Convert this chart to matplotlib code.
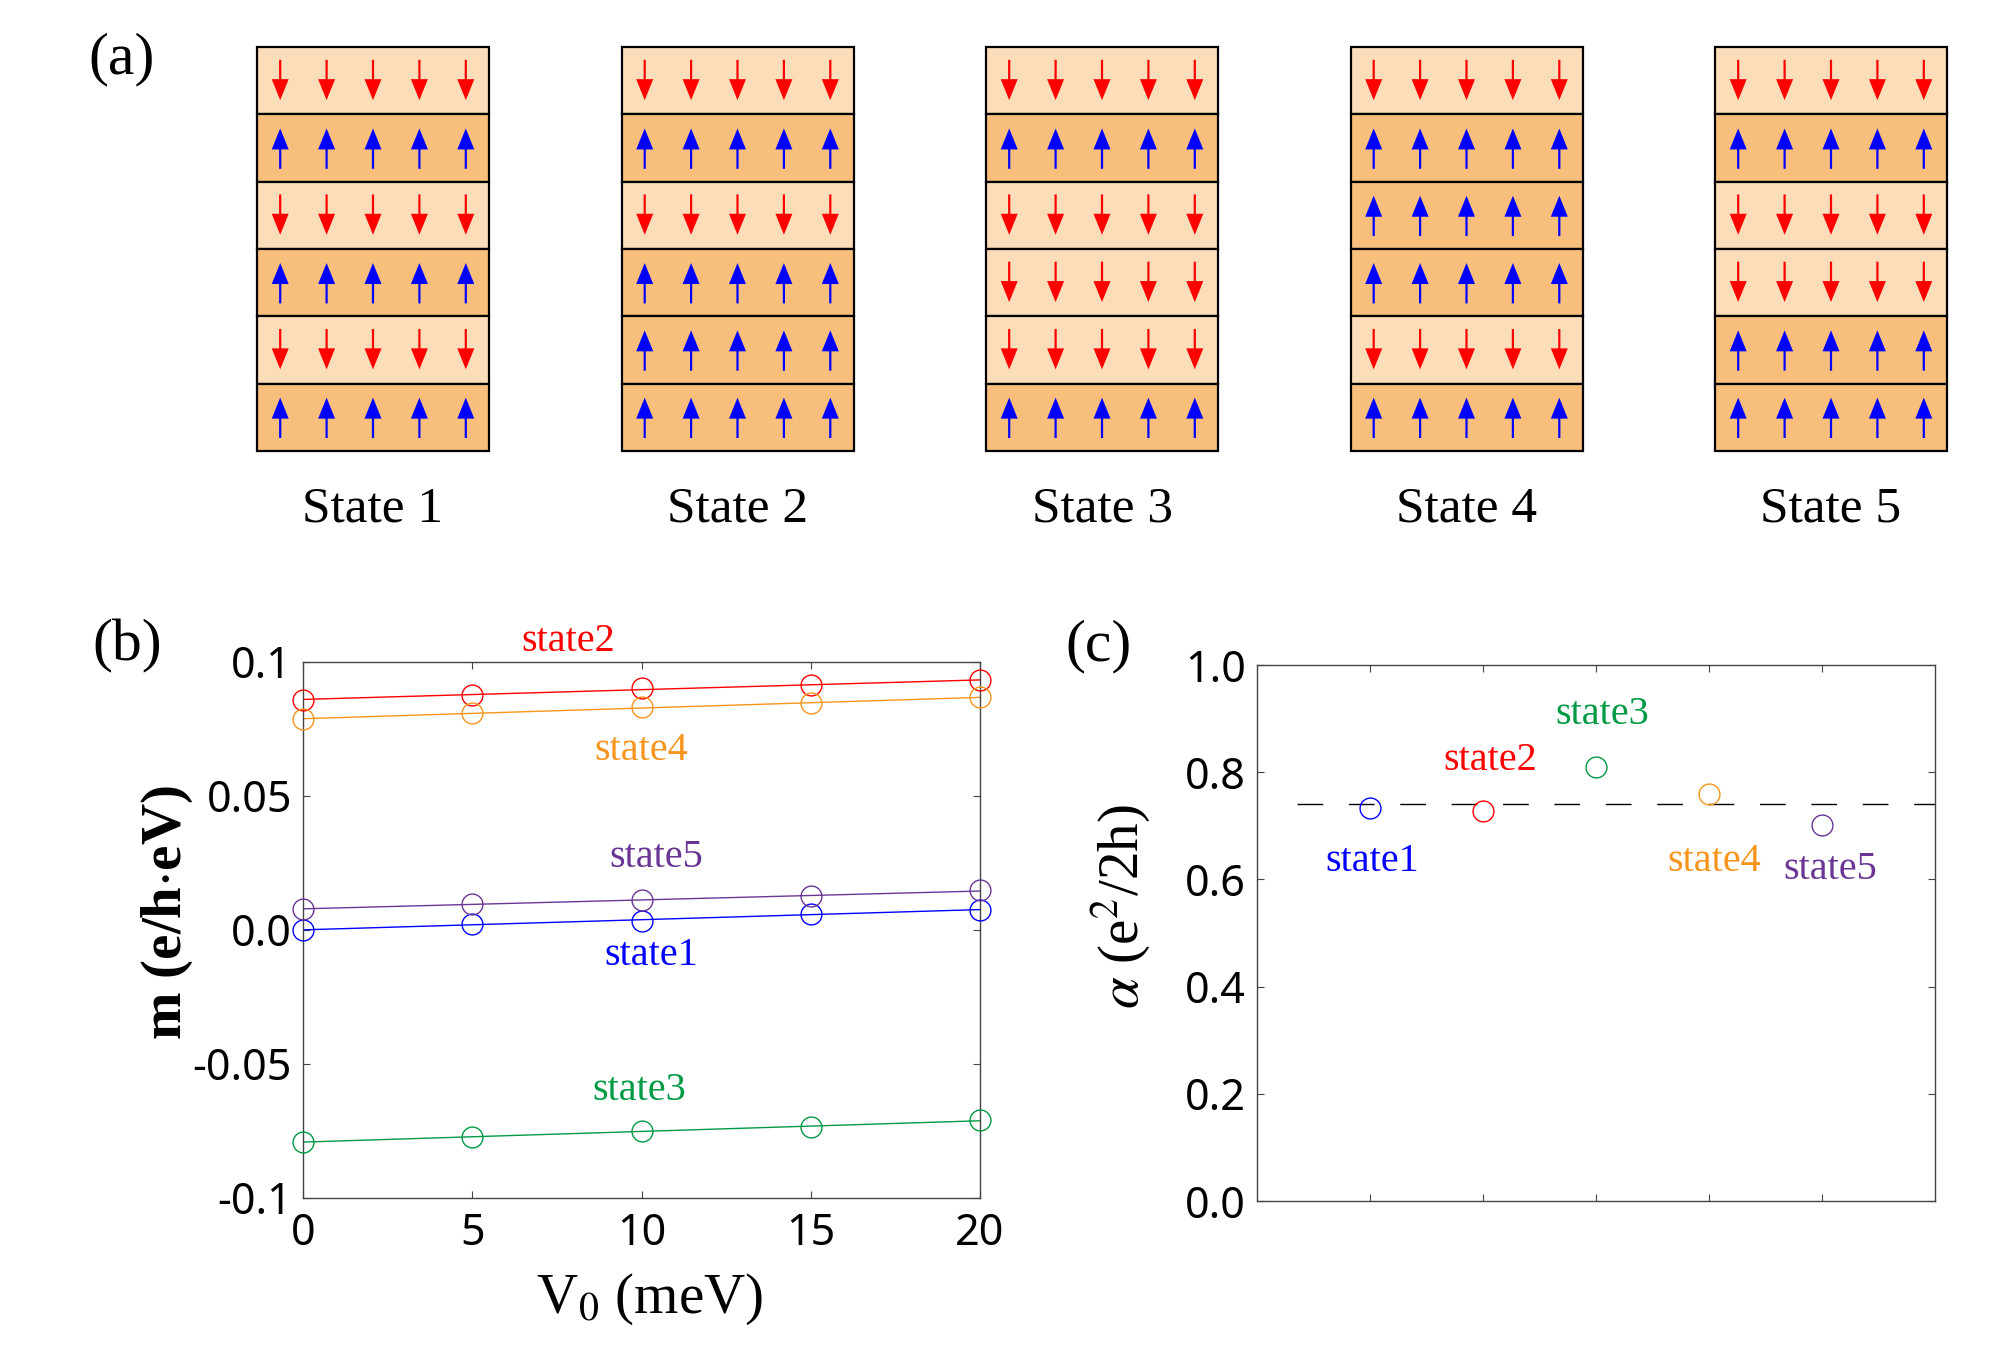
import numpy as np
import matplotlib
matplotlib.use('Agg')
import matplotlib.pyplot as plt
from matplotlib.patches import Rectangle, FancyArrow

plt.rcParams['mathtext.fontset'] = 'stix'
serif = 'Liberation Serif'
sans = 'Noto Sans'

# (a) layer magnetisation, top layer first ('d' down, 'u' up)
state_names = ['State 1', 'State 2', 'State 3', 'State 4', 'State 5']
state_layers = [
    ['d', 'u', 'd', 'u', 'd', 'u'],
    ['d', 'u', 'd', 'u', 'u', 'u'],
    ['d', 'u', 'd', 'd', 'd', 'u'],
    ['d', 'u', 'u', 'u', 'd', 'u'],
    ['d', 'u', 'd', 'd', 'u', 'u'],
]

# (b) m vs V0
V0 = [0, 5, 10, 15, 20]
m_state1 = [0.0000, 0.0022, 0.0035, 0.0059, 0.0076]
m_state2 = [0.0859, 0.0877, 0.0902, 0.0915, 0.0931]
m_state3 = [-0.0790, -0.0774, -0.0749, -0.0735, -0.0710]
m_state4 = [0.0787, 0.0809, 0.0831, 0.0846, 0.0868]
m_state5 = [0.0080, 0.0096, 0.0111, 0.0126, 0.0148]
yticks_b = [-0.1, -0.05, 0.0, 0.05, 0.1]
yticklabels_b = ['-0.1', '-0.05', '0.0', '0.05', '0.1']

# (c) alpha per state
state_idx = [1, 2, 3, 4, 5]
alpha_vals = [0.733, 0.7285, 0.810, 0.759, 0.7016]
alpha_mean = 0.7405

labels = ['state1', 'state2', 'state3', 'state4', 'state5']
colors = ['#0000FF', '#FF0000', '#009A44', '#F7941D', '#6A3594']

W, H = 2013, 1359
fig = plt.figure(figsize=(W / 100, H / 100), dpi=100)

# ---- panel (a): drawn in pixel coordinates
ax_a = fig.add_axes([0, 0, 1, 1])
ax_a.set_xlim(0, W)
ax_a.set_ylim(H, 0)
ax_a.axis('off')
box_left, box_step, box_top = 257, 364.5, 47
box_w, lay_h = 232, 67.3
light, dark = '#FBDDBA', '#F8BF7C'
for i, (name, lay) in enumerate(zip(state_names, state_layers)):
    x0 = box_left + i * box_step
    for j, s in enumerate(lay):
        y0 = box_top + j * lay_h
        ax_a.add_patch(Rectangle((x0, y0), box_w, lay_h,
                                 facecolor=light if s == 'd' else dark,
                                 edgecolor='black', lw=1.6))
        for k in range(5):
            xa = x0 + box_w * (0.1 + 0.2 * k)
            if s == 'd':
                ya, dy, c = y0 + 0.19 * lay_h, 0.6 * lay_h, '#FF0000'
            else:
                ya, dy, c = y0 + 0.81 * lay_h, -0.6 * lay_h, '#0000FF'
            ax_a.add_patch(FancyArrow(xa, ya, 0, dy, width=2.2, head_width=17,
                                      head_length=21, length_includes_head=True,
                                      color=c, lw=0))
    ax_a.text(x0 + box_w / 2, 522, name, ha='center', va='baseline',
              fontsize=37, fontfamily=[serif])

fig.text(122 / W, 1 - 59 / H, '(a)', ha='center', va='center', fontsize=43, fontfamily=[serif])
fig.text(127 / W, 1 - 646 / H, '(b)', ha='center', va='center', fontsize=43, fontfamily=[serif])
fig.text(1099 / W, 1 - 646 / H, '(c)', ha='center', va='center', fontsize=43, fontfamily=[serif])


def style_axes(ax):
    for sp in ax.spines.values():
        sp.set_linewidth(1.0)
        sp.set_color('#444444')
    ax.tick_params(direction='in', top=True, right=True, length=5, width=0.8,
                   color='#444444', labelsize=31, labelfontfamily=sans)
    ax.tick_params(axis='y', pad=8)
    ax.tick_params(axis='x', pad=10)


# ---- panel (b)
ax_b = fig.add_axes([303 / W, 1 - 1198 / H, 677 / W, 536 / H])
series_b = [m_state1, m_state2, m_state3, m_state4, m_state5]
pos_b = [(10.3, -0.0097), (7.83, 0.1078), (9.93, -0.060), (10.0, 0.0668), (10.43, 0.0272)]
xs = np.array(V0, dtype=float)
for ys, c, lab, (tx, ty) in zip(series_b, colors, labels, pos_b):
    k, b = np.polyfit(xs, ys, 1)
    ax_b.plot([xs[0], xs[-1]], [k * xs[0] + b, k * xs[-1] + b], color=c, lw=1.0, zorder=2)
    ax_b.plot(xs, ys, 'o', mfc='none', mec=c, ms=15, mew=1.0, zorder=3, clip_on=False)
    ax_b.text(tx, ty, lab, color=c, ha='center', va='center', fontsize=29, fontfamily=[serif])
ax_b.set_xlim(0, 20)
ax_b.set_ylim(-0.1, 0.1)
ax_b.set_xticks(V0)
ax_b.set_yticks(yticks_b)
ax_b.set_yticklabels(yticklabels_b)
style_axes(ax_b)
fig.text(167 / W, 1 - 913 / H, r'm (e/h$\cdot$eV)', rotation=90, ha='center', va='center',
         fontsize=41, fontfamily=[serif], fontweight='bold')
fig.text(650 / W, 1 - 1313 / H, r'V$_0$ (meV)', ha='center', va='baseline',
         fontsize=41, fontfamily=[serif])

# ---- panel (c)
ax_c = fig.add_axes([1257 / W, 1 - 1201 / H, 678 / W, 536 / H])
pos_c = [(1.016, 0.634), (2.065, 0.822), (3.054, 0.907), (4.05, 0.634), (5.076, 0.618)]
ax_c.plot([0.35, 6], [alpha_mean, alpha_mean], color='black', lw=1.0, dashes=(18.5, 18.5))
for xi, yi, c, lab, (tx, ty) in zip(state_idx, alpha_vals, colors, labels, pos_c):
    ax_c.plot(xi, yi, 'o', mfc='none', mec=c, ms=15, mew=1.0, zorder=3)
    ax_c.text(tx, ty, lab, color=c, ha='center', va='center', fontsize=29, fontfamily=[serif])
ax_c.set_xlim(0, 6)
ax_c.set_ylim(0, 1.0)
ax_c.set_xticks(state_idx)
ax_c.set_xticklabels([])
ax_c.set_yticks([0.0, 0.2, 0.4, 0.6, 0.8, 1.0])
ax_c.set_yticklabels(['0.0', '0.2', '0.4', '0.6', '0.8', '1.0'])
style_axes(ax_c)
fig.text(1121 / W, 1 - 907 / H, r'$\alpha$ (e$^2$/2h)', rotation=90, ha='center', va='center',
         fontsize=41, fontfamily=[serif])

fig.savefig('out.png', dpi=100)
